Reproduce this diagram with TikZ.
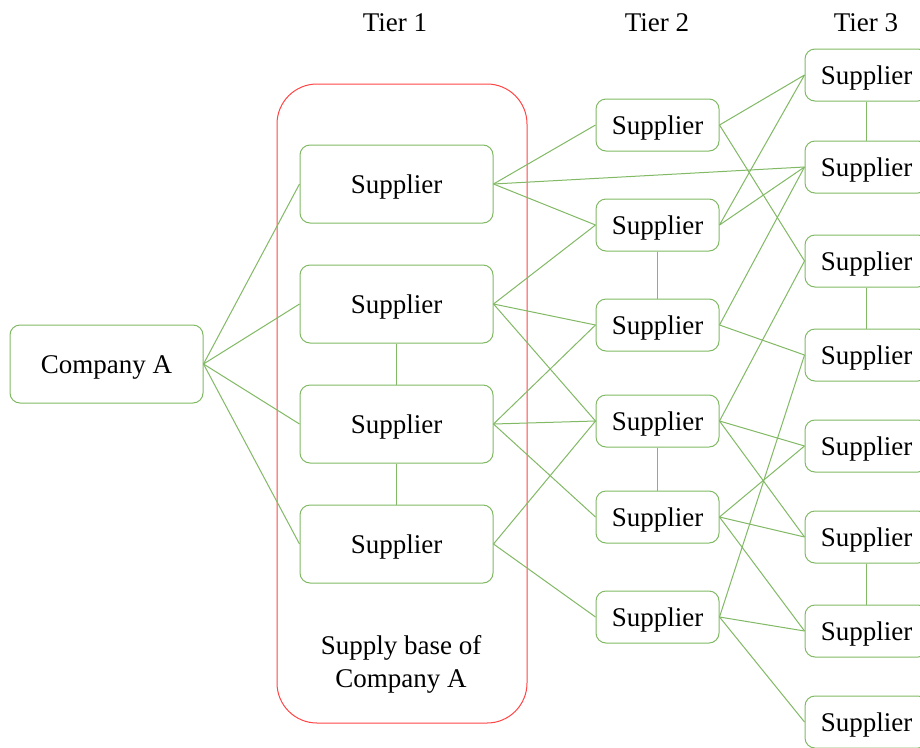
\documentclass[tikz,border=0pt]{standalone}
\usepackage{fontspec}
\setmainfont{Liberation Serif}
\definecolor{gline}{RGB}{130,185,100}
\definecolor{rbox}{RGB}{255,70,70}
\begin{document}
\begin{tikzpicture}[x=1pt,y=-1pt,
  every node/.style={font=\fontsize{27}{33}\selectfont, inner sep=0pt},
  bigbox/.style={draw=gline, line width=1pt, rounded corners=10pt, minimum width=193pt, minimum height=78pt, text height=21pt, text depth=3pt},
  smallbox/.style={draw=gline, line width=1pt, rounded corners=10pt, minimum width=123pt, minimum height=52pt, text height=21pt, text depth=3pt},
  link/.style={draw=gline, line width=1pt}]
\clip (0,0) rectangle (920,747);
\fill[white] (0,0) rectangle (920,747);
% supply base frame
\node[draw=rbox, line width=1pt, rounded corners=40pt, minimum width=250pt, minimum height=639pt] (frame) at (402,403.5) {};
\node[align=center] (sbtext) at (401,664) {Supply base of\\Company A};
% tier labels
\node (tl1) at (395,23) {Tier 1};
\node (tl2) at (657,23) {Tier 2};
\node (tl3) at (866,23) {Tier 3};
% company
\node[bigbox] (ca) at (106.5,364) {Company A};
% tier 1
\node[bigbox] (a1) at (396.5,184) {Supplier};
\node[bigbox] (a2) at (396.5,304) {Supplier};
\node[bigbox] (a3) at (396.5,424) {Supplier};
\node[bigbox] (a4) at (396.5,544) {Supplier};
% tier 2
\node[smallbox] (b1) at (657.5,125) {Supplier};
\node[smallbox] (b2) at (657.5,225) {Supplier};
\node[smallbox] (b3) at (657.5,325) {Supplier};
\node[smallbox] (b4) at (657.5,421) {Supplier};
\node[smallbox] (b5) at (657.5,517) {Supplier};
\node[smallbox] (b6) at (657.5,617) {Supplier};
% tier 3
\node[smallbox] (c1) at (866.5,75) {Supplier};
\node[smallbox] (c2) at (866.5,167) {Supplier};
\node[smallbox] (c3) at (866.5,261) {Supplier};
\node[smallbox] (c4) at (866.5,355) {Supplier};
\node[smallbox] (c5) at (866.5,446) {Supplier};
\node[smallbox] (c6) at (866.5,537) {Supplier};
\node[smallbox] (c7) at (866.5,631) {Supplier};
\node[smallbox] (c8) at (866.5,722) {Supplier};
% company to tier 1
\foreach \t in {a1,a2,a3,a4} \draw[link] (ca.east) -- (\t.west);
% vertical links
\draw[link] (a2.south) -- (a3.north);
\draw[link] (a3.south) -- (a4.north);
\draw[link] (b2.south) -- (b3.north);
\draw[link] (b4.south) -- (b5.north);
\draw[link] (c1.south) -- (c2.north);
\draw[link] (c3.south) -- (c4.north);
\draw[link] (c6.south) -- (c7.north);
% tier 1 to tier 2/3
\draw[link] (a1.east) -- (b1.west);
\draw[link] (a1.east) -- (b2.west);
\draw[link] (a1.east) -- (c2.west);
\draw[link] (a2.east) -- (b2.west);
\draw[link] (a2.east) -- (b3.west);
\draw[link] (a2.east) -- (b4.west);
\draw[link] (a3.east) -- (b3.west);
\draw[link] (a3.east) -- (b4.west);
\draw[link] (a3.east) -- (b5.west);
\draw[link] (a4.east) -- (b4.west);
\draw[link] (a4.east) -- (b6.west);
% tier 2 to tier 3
\draw[link] (b1.east) -- (c1.west);
\draw[link] (b1.east) -- (c3.west);
\draw[link] (b2.east) -- (c1.west);
\draw[link] (b2.east) -- (c2.west);
\draw[link] (b3.east) -- (c2.west);
\draw[link] (b3.east) -- (c4.west);
\draw[link] (b4.east) -- (c3.west);
\draw[link] (b4.east) -- (c5.west);
\draw[link] (b4.east) -- (c6.west);
\draw[link] (b5.east) -- (c5.west);
\draw[link] (b5.east) -- (c6.west);
\draw[link] (b5.east) -- (c7.west);
\draw[link] (b6.east) -- (c4.west);
\draw[link] (b6.east) -- (c7.west);
\draw[link] (b6.east) -- (c8.west);
\end{tikzpicture}
\end{document}
